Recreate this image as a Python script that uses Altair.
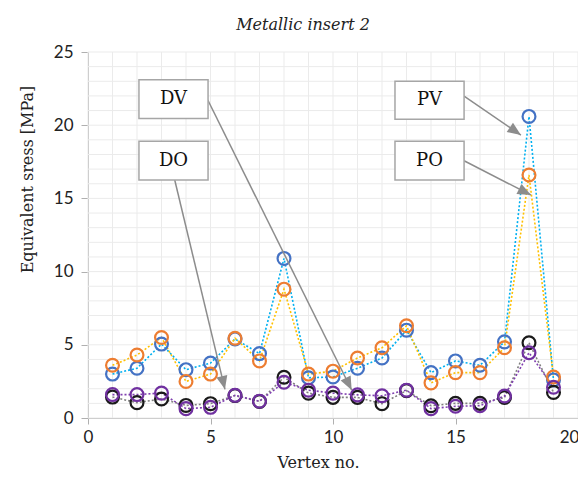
import math
import altair as alt
import pandas as pd

# ---------------- data ----------------
vertex = list(range(1, 20))
pv = [3.0, 3.4, 5.05, 3.3, 3.75, 5.4, 4.4, 10.9, 2.75, 2.8, 3.4, 4.1, 6.0, 3.1, 3.9, 3.6, 5.2, 20.6, 2.6]
po = [3.6, 4.3, 5.5, 2.5, 3.0, 5.45, 3.9, 8.8, 3.0, 3.2, 4.1, 4.8, 6.3, 2.4, 3.1, 3.1, 4.8, 16.6, 2.8]
dv = [1.43, 1.05, 1.3, 0.86, 0.98, 1.53, 1.13, 2.78, 1.7, 1.41, 1.41, 0.98, 1.87, 0.84, 1.0, 1.0, 1.4, 5.14, 1.75]
do = [1.6, 1.6, 1.7, 0.64, 0.73, 1.55, 1.15, 2.44, 1.9, 1.7, 1.58, 1.52, 1.9, 0.64, 0.8, 0.84, 1.5, 4.46, 2.1]

series = ["PV", "PO", "DV", "DO"]
line_colors = ["#00b0f0", "#ffc000", "#808080", "#8040b0"]
marker_colors = ["#4472c4", "#ed7d31", "#1a1a1a", "#7030a0"]

grid_x = list(range(0, 21))
grid_y = list(range(0, 26))
x_ticks = [0, 5, 10, 15, 20]
y_ticks = [0, 5, 10, 15, 20, 25]

# annotation boxes (data coordinates)
box_labels = ["DV", "DO", "PV", "PO"]
box_x1 = [2.08, 2.08, 12.53, 12.53]
box_x2 = [4.9, 4.9, 15.35, 15.35]
box_y1 = [20.45, 16.26, 20.4, 16.26]
box_y2 = [23.1, 18.9, 23.0, 18.9]

# arrows: start -> tip (data coordinates)
arr_x1 = [4.89, 3.54, 15.35, 15.35]
arr_y1 = [21.72, 16.26, 21.98, 17.57]
arr_x2 = [10.76, 5.59, 17.67, 18.08]
arr_y2 = [1.91, 1.96, 19.33, 15.23]

W, H = 490, 366
XMAX, YMAX = 20, 25

# ---------------- frames ----------------
rows = []
for s, vals in zip(series, [pv, po, dv, do]):
    for v, val in zip(vertex, vals):
        rows.append({"series": s, "vertex": v, "value": val})
df = pd.DataFrame(rows)

gx = pd.DataFrame({"v": grid_x})
gy = pd.DataFrame({"v": grid_y})

boxes = pd.DataFrame({"label": box_labels, "x1": box_x1, "x2": box_x2, "y1": box_y1, "y2": box_y2})
boxes["cx"] = (boxes.x1 + boxes.x2) / 2
boxes["cy"] = (boxes.y1 + boxes.y2) / 2

ang = []
for a, b, c, d in zip(arr_x1, arr_y1, arr_x2, arr_y2):
    dxp = (c - a) * W / XMAX
    dyp = -(d - b) * H / YMAX
    ang.append(math.degrees(math.atan2(dxp, -dyp)) % 360)
arrows = pd.DataFrame({"x1": arr_x1, "y1": arr_y1, "x2": arr_x2, "y2": arr_y2, "ang": ang})

xs = alt.Scale(domain=[0, XMAX], nice=False, zero=False)
ys = alt.Scale(domain=[0, YMAX], nice=False, zero=False)

xaxis = alt.Axis(values=x_ticks, grid=False, tickSize=6, tickColor="#b0b0b0", domainColor="#b0b0b0",
                 labelFont="Lato", labelFontSize=17, labelColor="#222222", labelPadding=5,
                 labelOffset={"condition": {"test": "datum.value == 20", "value": -9}, "value": 0},
                 title="Vertex no.", titleFont="DejaVu Serif", titleFontSize=16, titleFontWeight="normal",
                 titleColor="#222222", titlePadding=9, titleX=230, labelFlush=False)
yaxis = alt.Axis(values=y_ticks, grid=False, tickSize=7, tickColor="#b0b0b0", domainColor="#b0b0b0",
                 labelFont="Lato", labelFontSize=17, labelColor="#222222", labelPadding=8,
                 title="Equivalent sress [MPa]", titleFont="DejaVu Serif", titleFontSize=16,
                 titleFontWeight="normal", titleColor="#222222", titlePadding=18, titleY=127)

grid_v = alt.Chart(gx).mark_rule(color="#ebebeb", strokeWidth=1).encode(
    x=alt.X("v:Q", scale=xs, axis=xaxis))
grid_h = alt.Chart(gy).mark_rule(color="#ebebeb", strokeWidth=1).encode(
    y=alt.Y("v:Q", scale=ys, axis=yaxis))

lines = alt.Chart(df).mark_line(strokeWidth=1.6, strokeDash=[2, 2]).encode(
    x=alt.X("vertex:Q", scale=xs, axis=xaxis),
    y=alt.Y("value:Q", scale=ys, axis=yaxis),
    color=alt.Color("series:N", scale=alt.Scale(domain=series, range=line_colors), legend=None),
)
points = alt.Chart(df).mark_point(filled=False, size=165, strokeWidth=2.2, opacity=1).encode(
    x=alt.X("vertex:Q", scale=xs, axis=xaxis),
    y=alt.Y("value:Q", scale=ys, axis=yaxis),
    stroke=alt.Stroke("series:N", scale=alt.Scale(domain=series, range=marker_colors), legend=None),
)

arrow_lines = alt.Chart(arrows).mark_rule(color="#8c8c8c", strokeWidth=1.5).encode(
    x=alt.X("x1:Q", scale=xs, axis=xaxis), y=alt.Y("y1:Q", scale=ys, axis=yaxis),
    x2="x2:Q", y2="y2:Q")
arrow_heads = alt.Chart(arrows).mark_point(shape="M0,0L-1,2.4L1,2.4Z", filled=True, color="#8c8c8c",
                                           size=125, opacity=1).encode(
    x=alt.X("x2:Q", scale=xs, axis=xaxis), y=alt.Y("y2:Q", scale=ys, axis=yaxis),
    angle=alt.Angle("ang:Q", scale=None))

rects = alt.Chart(boxes).mark_rect(fill="white", stroke="#a6a6a6", strokeWidth=1.5).encode(
    x=alt.X("x1:Q", scale=xs, axis=xaxis), x2="x2:Q",
    y=alt.Y("y1:Q", scale=ys, axis=yaxis), y2="y2:Q")
texts = alt.Chart(boxes).mark_text(font="DejaVu Serif", fontSize=18, color="#111111").encode(
    x=alt.X("cx:Q", scale=xs, axis=xaxis), y=alt.Y("cy:Q", scale=ys, axis=yaxis), text="label:N")

chart = alt.layer(grid_v, grid_h, lines, points, arrow_lines, arrow_heads, rects, texts).resolve_scale(
    color="independent", stroke="independent"
).properties(
    width=W, height=H,
    title=alt.TitleParams("Metallic insert 2", font="DejaVu Serif", fontStyle="italic", fontSize=16,
                          fontWeight="normal", color="#222222", anchor="middle", dx=-30, offset=10),
    autosize=alt.AutoSizeParams(type="none"),
    padding={"left": 80, "top": 44, "right": 0, "bottom": 56},
).configure_view(stroke=None)

chart.save("out.html", embed_options={"renderer": "svg", "actions": False})
